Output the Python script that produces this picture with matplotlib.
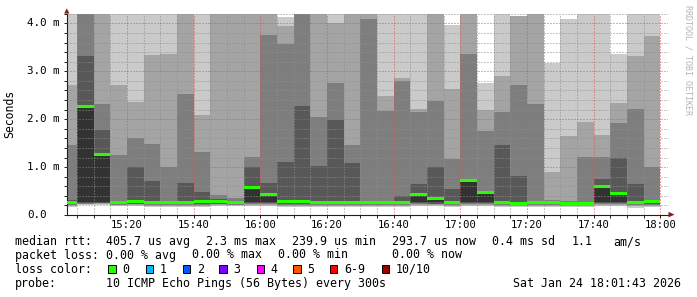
#!/usr/bin/env python3
"""SmokePing style latency chart (10 pings / 5 min), rebuilt with matplotlib."""
import matplotlib

matplotlib.use("Agg")
import matplotlib.pyplot as plt
from matplotlib.patches import Polygon, Rectangle
from matplotlib.ticker import MultipleLocator, NullFormatter
from matplotlib.transforms import blended_transform_factory

W, H = 697, 297

# 5-minute bins, 15:00 .. 17:55 (minutes of the day at bin start)
bin_start = [15 * 60 + 5 * i for i in range(36)]

# sorted ping RTTs per bin, in ms (p1 = fastest .. p10 = slowest)
p1 = [0.17, 0.20, 0.21, 0.18, 0.18, 0.17, 0.16, 0.17, 0.17, 0.18, 0.18, 0.18,
      0.18, 0.17, 0.17, 0.17, 0.17, 0.17, 0.17, 0.17, 0.17, 0.18, 0.18, 0.17,
      0.18, 0.18, 0.17, 0.17, 0.17, 0.17, 0.17, 0.17, 0.18, 0.18, 0.15, 0.17]
p2 = [0.19, 0.22, 0.23, 0.20, 0.20, 0.19, 0.18, 0.19, 0.19, 0.20, 0.20, 0.20,
      0.20, 0.19, 0.19, 0.19, 0.19, 0.19, 0.19, 0.19, 0.19, 0.20, 0.20, 0.19,
      0.20, 0.20, 0.19, 0.19, 0.19, 0.19, 0.19, 0.19, 0.20, 0.20, 0.18, 0.19]
p3 = [0.21, 0.24, 0.25, 0.21, 0.22, 0.21, 0.20, 0.21, 0.21, 0.22, 0.21, 0.22,
      0.22, 0.21, 0.21, 0.21, 0.21, 0.21, 0.21, 0.21, 0.21, 0.22, 0.22, 0.21,
      0.22, 0.22, 0.21, 0.21, 0.21, 0.21, 0.21, 0.21, 0.22, 0.22, 0.20, 0.21]
p4 = [0.23, 0.26, 0.26, 0.23, 0.24, 0.23, 0.22, 0.23, 0.23, 0.24, 0.22, 0.25,
      0.25, 0.23, 0.23, 0.23, 0.23, 0.23, 0.23, 0.23, 0.23, 0.25, 0.24, 0.23,
      0.25, 0.25, 0.23, 0.23, 0.23, 0.23, 0.23, 0.23, 0.25, 0.25, 0.22, 0.23]
p5 = [0.25, 0.28, 0.28, 0.24, 0.26, 0.25, 0.24, 0.25, 0.26, 0.26, 0.24, 0.28,
      0.28, 0.25, 0.25, 0.24, 0.25, 0.24, 0.24, 0.24, 0.24, 0.28, 0.27, 0.24,
      0.28, 0.28, 0.24, 0.24, 0.24, 0.24, 0.24, 0.24, 0.28, 0.28, 0.24, 0.25]
p6 = [0.27, 2.28, 1.27, 0.26, 0.29, 0.27, 0.265, 0.265, 0.29, 0.29, 0.255, 0.585,
      0.44, 0.275, 0.275, 0.265, 0.27, 0.26, 0.26, 0.265, 0.265, 0.44, 0.355, 0.26,
      0.73, 0.47, 0.26, 0.25, 0.265, 0.26, 0.255, 0.25, 0.62, 0.455, 0.27, 0.29]
p7 = [0.31, 3.31, 1.77, 0.30, 1.01, 0.70, 0.30, 0.675, 0.49, 0.33, 0.29, 1.01,
      0.675, 1.10, 2.28, 1.02, 1.98, 1.08, 0.29, 0.30, 0.40, 0.65, 1.00, 0.54,
      0.75, 0.49, 1.46, 0.81, 0.30, 0.28, 0.28, 0.28, 0.75, 1.18, 0.645, 0.32]
p8 = [1.46, 4.50, 2.32, 1.25, 1.60, 1.48, 1.00, 2.53, 1.32, 0.42, 0.35, 1.22,
      3.76, 3.56, 4.50, 2.05, 2.75, 1.46, 4.10, 2.18, 2.80, 2.14, 2.37, 1.16,
      3.36, 1.75, 2.16, 2.71, 2.32, 0.31, 0.30, 1.22, 1.22, 1.93, 2.21, 1.01]
p9 = [2.71, 4.60, 4.50, 2.71, 2.35, 3.34, 3.36, 4.50, 2.09, 4.50, 4.50, 4.50,
      4.50, 3.95, 4.60, 4.50, 4.00, 4.50, 4.50, 2.48, 2.85, 2.21, 4.50, 2.64,
      4.50, 2.19, 2.90, 4.15, 4.50, 0.905, 1.64, 1.95, 1.67, 2.33, 3.32, 3.74]
p10 = [4.50, 4.70, 4.60, 4.50, 4.50, 4.50, 4.50, 4.60, 4.50, 4.60, 4.60, 4.60,
       4.60, 4.13, 4.70, 4.60, 4.50, 4.60, 4.60, 4.50, 4.50, 4.50, 4.60, 3.97,
       4.60, 2.75, 4.50, 4.16, 4.60, 3.18, 4.10, 4.50, 4.50, 3.37, 4.50, 4.50]
median = [0.265, 2.26, 1.255, 0.255, 0.285, 0.27, 0.265, 0.265, 0.29, 0.29, 0.255, 0.567,
          0.42, 0.272, 0.272, 0.262, 0.265, 0.256, 0.256, 0.263, 0.263, 0.425, 0.345, 0.256,
          0.716, 0.46, 0.256, 0.25, 0.263, 0.255, 0.25, 0.25, 0.60, 0.44, 0.265, 0.285]

y_ticks = [0, 1, 2, 3, 4]
legend_rows = [
    [("median rtt:", 16), ("405.7 us avg", 107.3), ("2.3 ms max", 207.3),
     ("239.9 us min", 293.3), ("293.7 us now", 393.3), ("0.4 ms sd", 493.3),
     ("1.1", 572.3), ("am/s", 614)],
    [("packet loss:", 16), ("0.00 % avg", 107.3), ("0.00 % max", 193.3),
     ("0.00 % min", 279), ("0.00 % now", 393.3)],
    [("loss color:", 16)],
    [("probe:", 16), ("10 ICMP Echo Pings (56 Bytes) every 300s", 107.3)],
]
loss_labels = ["0", "1", "2", "3", "4", "5", "6-9", "10/10"]
loss_colors = ["#26ff00", "#00b8ff", "#0059ff", "#7e00ff", "#ff00ff",
               "#ff5500", "#ff0000", "#a10000"]
stamp = "Sat Jan 24 18:01:43 2026"

SMOKE = ["#cacaca", "#a4a4a4", "#7e7e7e", "#585858", "#323232"]
MONO = "DejaVu Sans Mono"
AXIS = "#1f1f1f"

plt.rcParams["font.family"] = MONO


def fx(x):
    return x / W


def fy(y):
    return 1 - y / H


fig = plt.figure(figsize=(W / 100, H / 100), dpi=100)
left, right, top, bottom = 66.5, 668.0, 13.8, 215.0
ax = fig.add_axes([fx(left), fy(bottom), (right - left) / W, (bottom - top) / H])
ax.set_xlim(15 * 60 + 1.85, 15 * 60 + 182.25)
ax.set_ylim(0, 4.2)

pings = [p1, p2, p3, p4, p5, p6, p7, p8, p9, p10]
for i, col in enumerate(SMOKE):
    lo, hi = pings[i], pings[9 - i]
    ax.bar(bin_start, [h - l for l, h in zip(lo, hi)], bottom=lo, width=5,
           align="edge", color=col, lw=0, zorder=1)

sw = 0.031
ax.bar(bin_start, 2 * sw, bottom=[m - sw for m in median], width=5,
       align="edge", color=loss_colors[0], lw=0, zorder=3)

ax.xaxis.set_major_locator(MultipleLocator(20))
ax.xaxis.set_minor_locator(MultipleLocator(5))
ax.yaxis.set_major_locator(MultipleLocator(1))
ax.yaxis.set_minor_locator(MultipleLocator(0.2))
ax.xaxis.set_major_formatter(NullFormatter())
ax.yaxis.set_major_formatter(NullFormatter())
ax.set_axisbelow(False)
ax.grid(which="minor", color=(0.56, 0.56, 0.56, 0.75), ls=(0, (1, 2)), lw=0.72)
ax.grid(which="major", color=(0.87, 0.31, 0.31, 0.6), ls=(0, (1, 2)), lw=0.72)
ax.tick_params(which="both", direction="out", length=2.2, width=0.7, color=AXIS)
for s in ("top", "right"):
    ax.spines[s].set_visible(False)
for s in ("left", "bottom"):
    ax.spines[s].set_color(AXIS)
    ax.spines[s].set_linewidth(0.8)

# tick labels, rrdtool style
ty = blended_transform_factory(fig.transFigure, ax.transData)
for v in y_ticks:
    ax.text(fx(27.5), v, "0.0" if v == 0 else f"{v:.1f} m", transform=ty,
            ha="left", va="center", fontsize=7.8)
tx = blended_transform_factory(ax.transData, fig.transFigure)
for m in range(16 * 60 - 40, 18 * 60 + 1, 20):
    ax.text(m, fy(225), f"{m // 60}:{m % 60:02d}", transform=tx,
            ha="center", va="center", fontsize=7.6)

fig.text(fx(10), fy(113.5), "Seconds", rotation=90, ha="center", va="center",
         fontsize=8.3)
fig.text(fx(688), fy(60), "RRDTOOL / TOBI OETIKER", rotation=270, ha="center",
         va="center", fontsize=6, color="#b4b4b4")

# arrows at the axis ends
arrow = "#801f1f"
fig.add_artist(Polygon([(fx(66.8), fy(8.3)), (fx(64.2), fy(13.6)), (fx(69.4), fy(13.6))],
                       closed=True, transform=fig.transFigure, color=arrow, lw=0))
fig.add_artist(Polygon([(fx(674.5), fy(214.6)), (fx(668.5), fy(211.8)), (fx(668.5), fy(217.4))],
                       closed=True, transform=fig.transFigure, color=arrow, lw=0))

# legend block
row_y = [241.7, 255.0, 269.3, 283.3]
for items, y in zip(legend_rows, row_y):
    for txt, x in items:
        fig.text(fx(x - 0.8), fy(y), txt, ha="left", va="center", fontsize=8.4)
fig.text(fx(681), fy(row_y[3]), stamp, ha="right", va="center", fontsize=8.4)

box_x = [108.3, 145.7, 182.7, 219.3, 256.7, 293.3, 330.0, 381.7]
for lab, col, bx in zip(loss_labels, loss_colors, box_x):
    fig.add_artist(Rectangle((fx(bx), fy(row_y[2] + 3.9)), 7.4 / W, 7.8 / H,
                             transform=fig.transFigure, facecolor=col,
                             edgecolor="black", lw=0.7))
    fig.text(fx(bx + 14.2), fy(row_y[2]), lab, ha="left", va="center", fontsize=8.4)

fig.savefig("out.png", dpi=100)
